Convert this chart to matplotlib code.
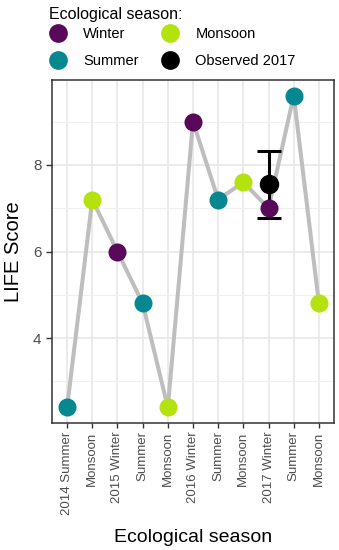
import matplotlib
matplotlib.use("Agg")
import matplotlib.pyplot as plt
from matplotlib.lines import Line2D
from matplotlib.ticker import MultipleLocator

plt.rcParams['font.family'] = ['Liberation Sans', 'DejaVu Sans']

# data
labels = ["2014 Summer", "Monsoon", "2015 Winter", "Summer", "Monsoon",
          "2016 Winter", "Summer", "Monsoon", "2017 Winter", "Summer", "Monsoon"]
seasons = ["Summer", "Monsoon", "Winter", "Summer", "Monsoon",
           "Winter", "Summer", "Monsoon", "Winter", "Summer", "Monsoon"]
life_score = [2.4, 7.2, 6.0, 4.8, 2.4, 9.0, 7.2, 7.6, 7.0, 9.6, 4.8]

obs_label = "2017 Winter"
obs_mean = 7.55
obs_err = 0.78

colours = {"Winter": "#59095a", "Summer": "#078891",
           "Monsoon": "#b3e20e", "Observed 2017": "#000000"}

x = list(range(len(labels)))

fig = plt.figure(figsize=(3.39, 5.5), dpi=100)
ax = fig.add_axes([0.1534, 0.2309, 0.8319, 0.6236])

ax.plot(x, life_score, color="#bebebe", lw=2.9, zorder=2, solid_capstyle="butt")

xo = labels.index(obs_label)
ax.errorbar([xo], [obs_mean], yerr=[obs_err], fmt="o", color="black",
            ms=13, lw=2.2, capsize=8.3, capthick=2.2, zorder=3)

for xi, yi, s in zip(x, life_score, seasons):
    ax.plot(xi, yi, "o", color=colours[s], ms=13, mec="none", zorder=4)

ax.set_xlim(-0.6, len(labels) - 0.4)
lo, hi = 2.4, 9.6
pad = (hi - lo) * 0.05
ax.set_ylim(lo - pad, hi + pad)

ax.set_xticks(x)
ax.set_xticklabels(labels, rotation=90, fontsize=9.5, color="#4d4d4d")
ax.yaxis.set_major_locator(MultipleLocator(2))
ax.yaxis.set_minor_locator(MultipleLocator(1))
ax.tick_params(axis="y", which="major", labelsize=11, labelcolor="#4d4d4d",
               length=4.5, width=1, color="#333333", pad=3)
ax.tick_params(axis="x", which="major", length=3.6, width=1, color="#333333", pad=2.5)
ax.tick_params(axis="y", which="minor", length=0)

ax.grid(True, which="major", color="#e8e8e8", lw=1.2, zorder=0)
ax.grid(True, which="minor", axis="y", color="#f0f0f0", lw=0.7, zorder=0)
ax.set_axisbelow(True)
for sp in ax.spines.values():
    sp.set_color("#333333")
    sp.set_linewidth(1.1)

ax.set_xlabel("Ecological season", fontsize=14, labelpad=10)
ax.set_ylabel("LIFE Score", fontsize=14.5, labelpad=7)

# legend: title as its own text so the gap to the keys can be set
fig.text(49 / 339, 1 - 14 / 550, "Ecological season:", fontsize=11.5,
         ha="left", va="center")
handles = [Line2D([], [], ls="none", marker="o", ms=13.5, mec="none",
                  color=colours[k], label=k)
           for k in ["Winter", "Summer", "Monsoon", "Observed 2017"]]
leg = fig.legend(handles=handles, ncol=2, loc="upper left",
                 bbox_to_anchor=(49 / 339, 1 - 27 / 550), frameon=False,
                 fontsize=10.5, handlelength=1.2, handletextpad=1.13,
                 columnspacing=1.58, labelspacing=0.87, borderpad=0,
                 borderaxespad=0)

fig.savefig("out.png", dpi=100)
